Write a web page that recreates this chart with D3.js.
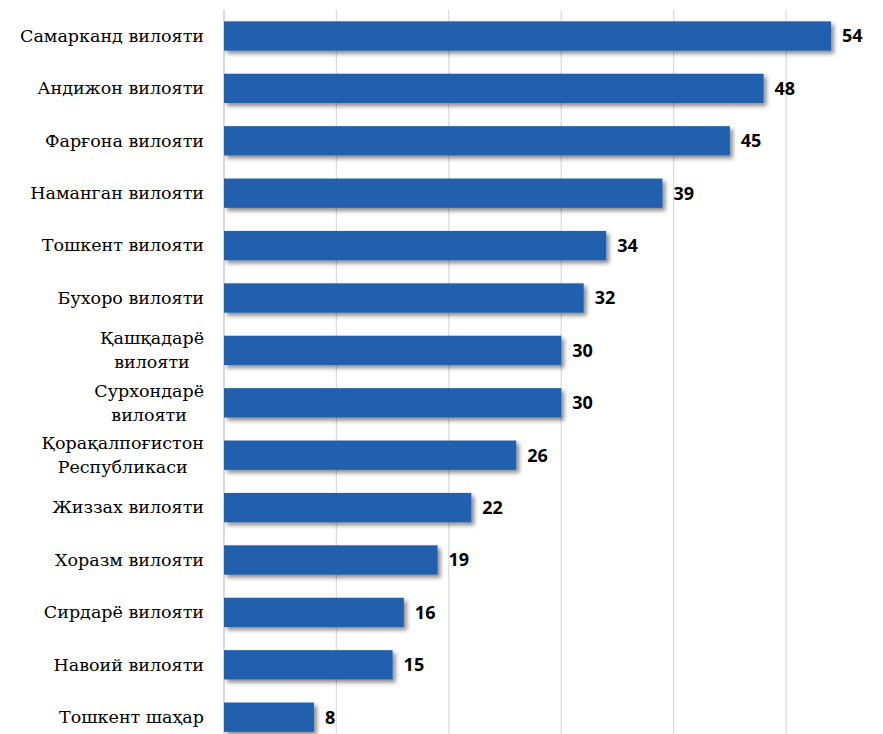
<!DOCTYPE html>
<html>
<head>
<meta charset="utf-8">
<script src="https://cdn.jsdelivr.net/npm/d3@7"></script>
<style>
  body { margin: 0; background: #fff; }
  .val { font-family: "Open Sans", "Noto Sans", sans-serif; font-weight: bold; font-size: 18px; fill: #000; }
</style>
</head>
<body>
<svg id="chart" width="883" height="734"></svg>
<script>
// регионлар ва қийматлар
var regions = ["Самарканд вилояти", "Андижон вилояти", "Фарғона вилояти", "Наманган вилояти",
               "Тошкент вилояти", "Бухоро вилояти", "Қашқадарё\nвилояти", "Сурхондарё\nвилояти",
               "Қорақалпоғистон\nРеспубликаси", "Жиззах вилояти", "Хоразм вилояти",
               "Сирдарё вилояти", "Навоий вилояти", "Тошкент шаҳар"];
var values = [54, 48, 45, 39, 34, 32, 30, 30, 26, 22, 19, 16, 15, 8];
var xTicks = [0, 10, 20, 30, 40, 50];

var svg = d3.select("#chart");

var x = d3.scaleLinear()
    .domain([0, 54])
    .range([224, 831]);

var y = d3.scaleBand()
    .domain(regions)
    .range([9.8, 743.4])
    .paddingInner(0.44)
    .paddingOuter(0.22);

// сояси
var defs = svg.append("defs");
var f = defs.append("filter").attr("id", "shadow")
    .attr("x", "-5%").attr("y", "-30%").attr("width", "115%").attr("height", "180%");
f.append("feDropShadow")
    .attr("dx", 3).attr("dy", 3)
    .attr("stdDeviation", 2)
    .attr("flood-color", "#000")
    .attr("flood-opacity", 0.45);

// вертикал чизиқлар
svg.append("g")
    .selectAll("line")
    .data(xTicks)
    .enter()
    .append("line")
    .attr("x1", function(d) { return x(d); })
    .attr("x2", function(d) { return x(d); })
    .attr("y1", 10)
    .attr("y2", 734)
    .attr("stroke", function(d) { return d === 0 ? "#c8c8c8" : "#dcdcdc"; })
    .attr("stroke-width", 1.3);

// устунлар
svg.append("g")
    .selectAll("rect")
    .data(values)
    .enter()
    .append("rect")
    .attr("x", x(0))
    .attr("y", function(d, i) { return y(regions[i]); })
    .attr("width", function(d) { return x(d) - x(0); })
    .attr("height", y.bandwidth())
    .attr("fill", "#245fad")
    .attr("filter", "url(#shadow)");

// қиймат ёзувлари
svg.append("g")
    .selectAll("text")
    .data(values)
    .enter()
    .append("text")
    .attr("class", "val")
    .attr("x", function(d) { return x(d) + 11; })
    .attr("y", function(d, i) { return y(regions[i]) + y.bandwidth() / 2; })
    .attr("dy", "0.35em")
    .text(function(d) { return d; });

// номлар
var labels = svg.append("g")
    .selectAll("text")
    .data(regions)
    .enter()
    .append("text")
    .attr("font-family", "DejaVu Serif")
    .attr("font-size", 17.5)
    .attr("fill", "#000")
    .attr("y", function(d) { return y(d) + y.bandwidth() / 2; });

labels.each(function(d) {
    var t = d3.select(this);
    var lines = d.split("\n");
    var cy = y(d) + y.bandwidth() / 2;
    if (lines.length === 1) {
        t.attr("x", 204).attr("text-anchor", "end").attr("dy", "0.33em").text(d);
        return;
    }
    var lh = 24;
    lines.forEach(function(s, k) {
        t.append("tspan")
            .attr("x", 0)
            .attr("y", cy + (k - (lines.length - 1) / 2) * lh)
            .attr("dy", "0.33em")
            .text(s);
    });
    var w = 0;
    t.selectAll("tspan").each(function() { w = Math.max(w, this.getComputedTextLength()); });
    t.attr("text-anchor", "middle");
    t.selectAll("tspan").attr("x", 204 - w / 2);
});
</script>
</body>
</html>
